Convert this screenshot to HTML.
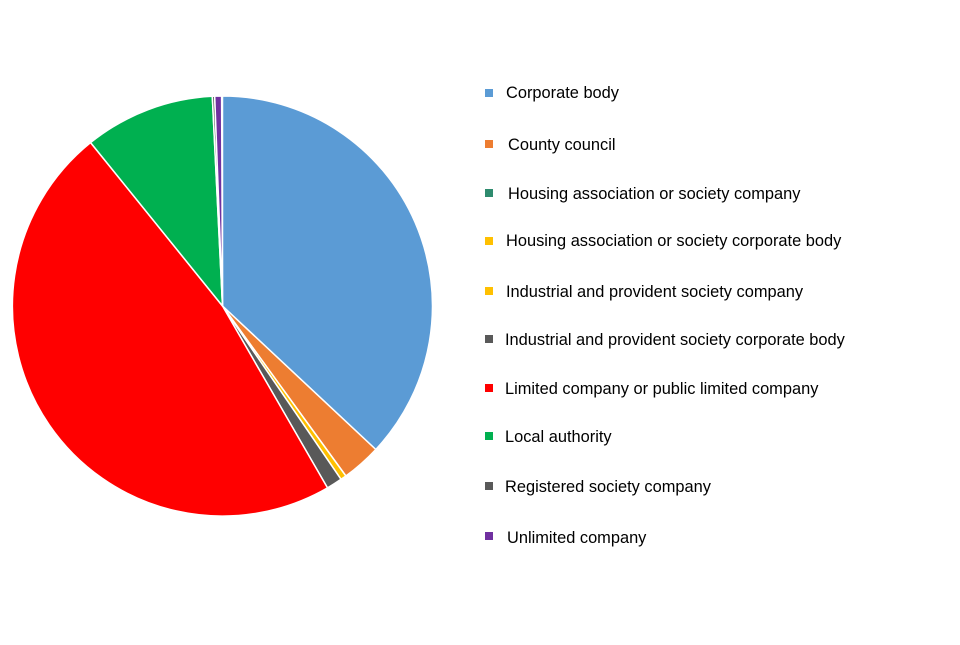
<!DOCTYPE html>
<html><head><meta charset="utf-8"><style>
body{margin:0;background:#fff;width:960px;height:640px;overflow:hidden}
svg text{font-family:"Liberation Sans",Arial,sans-serif;font-size:16.4px;fill:#000}
</style></head><body>
<svg width="960" height="640" xmlns="http://www.w3.org/2000/svg">
<g stroke="#fff" stroke-width="1.5" stroke-linejoin="round">
<path d="M222.5,306 L222.5,96 A210,210 0 0 1 375.8,449.5 Z" fill="#5B9BD5"/>
<path d="M222.5,306 L375.8,449.5 A210,210 0 0 1 345.9,476 Z" fill="#ED7D31"/>
<path d="M222.5,306 L345.9,476 A210,210 0 0 1 341,479.3 Z" fill="#FFC000"/>
<path d="M222.5,306 L341,479.3 A210,210 0 0 1 327.5,487.9 Z" fill="#595959"/>
<path d="M222.5,306 L327.5,487.9 A210,210 0 0 1 90.6,142.6 Z" fill="#FF0000"/>
<path d="M222.5,306 L90.6,142.6 A210,210 0 0 1 212.3,96.3 Z" fill="#00B050"/>
<path d="M222.5,306 L212.3,96.3 A210,210 0 0 1 214.7,96.1 Z" fill="#595959"/>
<path d="M222.5,306 L214.7,96.1 A210,210 0 0 1 221.6,96 Z" fill="#7030A0"/>
</g>
<g>
<rect x="485" y="89" width="8" height="8" fill="#5B9BD5"/><text x="506" y="98">Corporate body</text>
<rect x="485" y="140" width="8" height="8" fill="#ED7D31"/><text x="508" y="150">County council</text>
<rect x="485" y="189" width="8" height="8" fill="#2E8B6E"/><text x="508" y="199">Housing association or society company</text>
<rect x="485" y="237" width="8" height="8" fill="#FFC000"/><text x="506" y="246">Housing association or society corporate body</text>
<rect x="485" y="287" width="8" height="8" fill="#FFC000"/><text x="506" y="297">Industrial and provident society company</text>
<rect x="485" y="335" width="8" height="8" fill="#595959"/><text x="505" y="345">Industrial and provident society corporate body</text>
<rect x="485" y="384" width="8" height="8" fill="#FF0000"/><text x="505" y="394">Limited company or public limited company</text>
<rect x="485" y="432" width="8" height="8" fill="#00B050"/><text x="505" y="442">Local authority</text>
<rect x="485" y="482" width="8" height="8" fill="#595959"/><text x="505" y="492">Registered society company</text>
<rect x="485" y="532" width="8" height="8" fill="#7030A0"/><text x="507" y="543">Unlimited company</text>
</g>
</svg>
</body></html>
